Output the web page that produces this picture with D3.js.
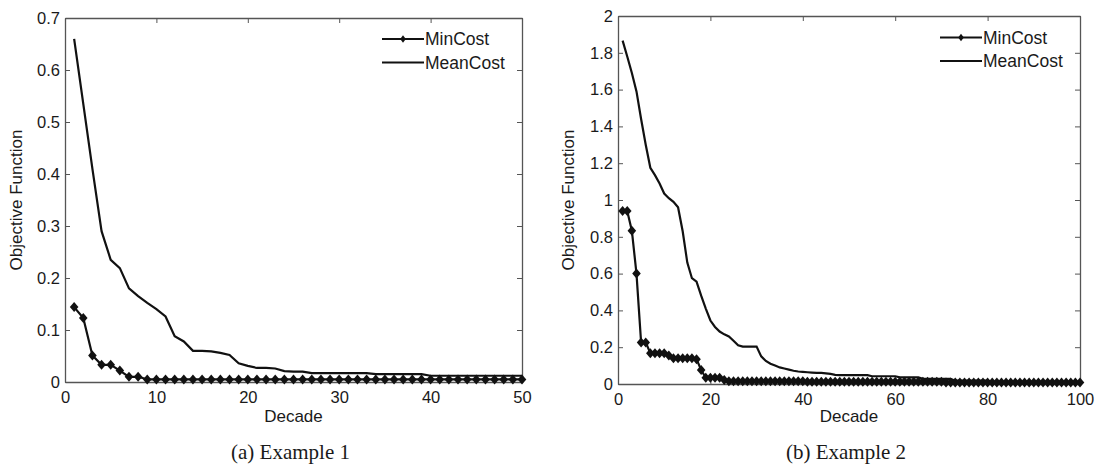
<!DOCTYPE html>
<html>
<head>
<meta charset="utf-8">
<script src="https://cdn.jsdelivr.net/npm/d3@7"></script>
<style>
  body { margin: 0; background: #fff; }
  text { font-family: "Liberation Sans", Arial, sans-serif; fill: #1a1a1a; }
  .caption { font-family: "Liberation Serif", "Times New Roman", serif; }
</style>
</head>
<body>
<div id="chart"></div>
<script>
"use strict";

// ---- data (x = decade 1..N) ----
const minCostA = [
  0.144, 0.123, 0.051, 0.033, 0.033, 0.022, 0.010, 0.010, 0.005, 0.005,
  0.005, 0.005, 0.005, 0.005, 0.005, 0.005, 0.005, 0.005, 0.005, 0.005,
  0.005, 0.005, 0.005, 0.005, 0.005, 0.005, 0.005, 0.005, 0.005, 0.005,
  0.005, 0.005, 0.005, 0.005, 0.005, 0.005, 0.005, 0.005, 0.005, 0.005,
  0.005, 0.005, 0.005, 0.005, 0.005, 0.005, 0.005, 0.005, 0.005, 0.005
];
const meanCostA = [
  0.660, 0.535, 0.410, 0.290, 0.235, 0.219, 0.180, 0.165, 0.152, 0.140,
  0.126, 0.088, 0.078, 0.060, 0.060, 0.059, 0.056, 0.052, 0.036, 0.031,
  0.027, 0.027, 0.026, 0.021, 0.020, 0.020, 0.017, 0.017, 0.017, 0.017,
  0.017, 0.017, 0.017, 0.015, 0.015, 0.015, 0.015, 0.015, 0.015, 0.012,
  0.012, 0.012, 0.012, 0.012, 0.012, 0.012, 0.012, 0.012, 0.012, 0.012
];
const minCostB = [
  0.940, 0.940, 0.833, 0.600, 0.226, 0.226, 0.167, 0.167, 0.167, 0.167,
  0.155, 0.140, 0.140, 0.140, 0.140, 0.140, 0.135, 0.076, 0.034, 0.034,
  0.034, 0.034, 0.022, 0.015, 0.015, 0.015, 0.015, 0.015, 0.015, 0.015,
  0.015, 0.015, 0.015, 0.015, 0.015, 0.015, 0.015, 0.015, 0.015, 0.015,
  0.012, 0.012, 0.012, 0.012, 0.012, 0.012, 0.012, 0.012, 0.012, 0.012,
  0.012, 0.012, 0.012, 0.012, 0.012, 0.012, 0.012, 0.012, 0.012, 0.012,
  0.012, 0.012, 0.012, 0.012, 0.012, 0.012, 0.012, 0.012, 0.012, 0.012,
  0.008, 0.008, 0.008, 0.008, 0.008, 0.008, 0.008, 0.008, 0.008, 0.008,
  0.008, 0.008, 0.008, 0.008, 0.008, 0.008, 0.008, 0.008, 0.008, 0.008,
  0.008, 0.008, 0.008, 0.008, 0.008, 0.008, 0.008, 0.008, 0.008, 0.008
];
const meanCostB = [
  1.866, 1.780, 1.690, 1.590, 1.440, 1.300, 1.175, 1.135, 1.090, 1.035,
  1.010, 0.990, 0.960, 0.830, 0.660, 0.575, 0.556, 0.480, 0.410, 0.345,
  0.310, 0.285, 0.270, 0.258, 0.235, 0.210, 0.203, 0.203, 0.203, 0.203,
  0.150, 0.125, 0.110, 0.100, 0.090, 0.084, 0.078, 0.072, 0.068, 0.066,
  0.064, 0.062, 0.060, 0.060, 0.058, 0.055, 0.050, 0.048, 0.048, 0.048,
  0.048, 0.048, 0.048, 0.048, 0.042, 0.042, 0.042, 0.042, 0.042, 0.042,
  0.036, 0.036, 0.036, 0.036, 0.036, 0.028, 0.028, 0.028, 0.028, 0.028,
  0.028, 0.028, 0.018, 0.018, 0.018, 0.018, 0.018, 0.018, 0.018, 0.018,
  0.012, 0.012, 0.012, 0.012, 0.012, 0.012, 0.012, 0.012, 0.012, 0.012,
  0.012, 0.012, 0.012, 0.012, 0.012, 0.012, 0.012, 0.012, 0.012, 0.012
];
const xTicksA = [0, 10, 20, 30, 40, 50];
const yTicksA = [0, 0.1, 0.2, 0.3, 0.4, 0.5, 0.6, 0.7];
const xTicksB = [0, 20, 40, 60, 80, 100];
const yTicksB = [0, 0.2, 0.4, 0.6, 0.8, 1, 1.2, 1.4, 1.6, 1.8, 2];
const seriesNames = ["MinCost", "MeanCost"];
const captions = ["(a) Example 1", "(b) Example 2"];

const W = 1101, H = 469;
const panels = [
  { left: 65, right: 522, top: 18, bottom: 382, xMax: 50, yMax: 0.7,
    xTicks: xTicksA, yTicks: yTicksA, min: minCostA, mean: meanCostA,
    ylabX: 22, legX: 382, legY: 39, caption: captions[0] },
  { left: 618, right: 1080, top: 16, bottom: 384, xMax: 100, yMax: 2,
    xTicks: xTicksB, yTicks: yTicksB, min: minCostB, mean: meanCostB,
    ylabX: 574, legX: 940, legY: 37.5, caption: captions[1] }
];

const svg = d3.select("#chart").append("svg")
  .attr("width", W)
  .attr("height", H);

function diamond(w, h) {
  return "M0," + (-h) + "L" + w + ",0L0," + h + "L" + (-w) + ",0Z";
}

function styleAxis(g, showText) {
  g.select(".domain").attr("stroke", "#555").attr("stroke-width", 1.3);
  g.selectAll(".tick line").attr("stroke", "#555").attr("stroke-width", 1);
  g.selectAll(".tick text")
    .attr("font-size", 16.5)
    .attr("font-family", "Liberation Sans, Arial, sans-serif")
    .attr("fill", "#1a1a1a");
  if (!showText) g.selectAll(".tick text").remove();
}

function drawPanel(p) {
  const x = d3.scaleLinear().domain([0, p.xMax]).range([p.left, p.right]);
  const y = d3.scaleLinear().domain([0, p.yMax]).range([p.bottom, p.top]);
  const fmt = d3.format("~g");

  // box axes, ticks pointing inward like matlab
  svg.append("g").attr("transform", "translate(0," + p.bottom + ")")
    .call(d3.axisBottom(x).tickValues(p.xTicks).tickSizeInner(-5).tickSizeOuter(0).tickPadding(9).tickFormat(fmt))
    .call(g => styleAxis(g, true));
  svg.append("g").attr("transform", "translate(0," + p.top + ")")
    .call(d3.axisTop(x).tickValues(p.xTicks).tickSizeInner(-5).tickSizeOuter(0))
    .call(g => styleAxis(g, false));
  svg.append("g").attr("transform", "translate(" + p.left + ",0)")
    .call(d3.axisLeft(y).tickValues(p.yTicks).tickSizeInner(-5).tickSizeOuter(0).tickPadding(5).tickFormat(fmt))
    .call(g => styleAxis(g, true));
  svg.append("g").attr("transform", "translate(" + p.right + ",0)")
    .call(d3.axisRight(y).tickValues(p.yTicks).tickSizeInner(-5).tickSizeOuter(0))
    .call(g => styleAxis(g, false));

  const line = d3.line()
    .x((d, i) => x(i + 1))
    .y(d => y(d));

  svg.append("path")
    .datum(p.mean)
    .attr("fill", "none")
    .attr("stroke", "#111")
    .attr("stroke-width", 2.2)
    .attr("d", line);

  svg.append("path")
    .datum(p.min)
    .attr("fill", "none")
    .attr("stroke", "#111")
    .attr("stroke-width", 2.2)
    .attr("d", line);

  svg.append("g").selectAll("path")
    .data(p.min)
    .enter()
    .append("path")
    .attr("transform", (d, i) => "translate(" + x(i + 1) + "," + y(d) + ")")
    .attr("d", diamond(4.3, 5))
    .attr("fill", "#111");

  // axis labels
  svg.append("text")
    .attr("x", (p.left + p.right) / 2)
    .attr("y", 422)
    .attr("text-anchor", "middle")
    .attr("font-size", 17)
    .text("Decade");

  svg.append("text")
    .attr("transform", "translate(" + p.ylabX + "," + ((p.top + p.bottom) / 2) + ") rotate(-90)")
    .attr("text-anchor", "middle")
    .attr("font-size", 17)
    .text("Objective Function");

  // legend
  seriesNames.forEach((name, i) => {
    const ly = p.legY + i * 23.5;
    svg.append("line")
      .attr("x1", p.legX).attr("x2", p.legX + 42)
      .attr("y1", ly).attr("y2", ly)
      .attr("stroke", "#111").attr("stroke-width", 2);
    if (i === 0) {
      svg.append("path")
        .attr("transform", "translate(" + (p.legX + 21) + "," + ly + ")")
        .attr("d", diamond(2.8, 3.8))
        .attr("fill", "#111");
    }
    svg.append("text")
      .attr("x", p.legX + 43)
      .attr("y", ly + 6)
      .attr("font-size", 17.5)
      .text(name);
  });

  svg.append("text")
    .attr("class", "caption")
    .attr("x", (p.left + p.right) / 2 - 3)
    .attr("y", 459)
    .attr("text-anchor", "middle")
    .attr("font-size", 21)
    .text(p.caption);
}

panels.forEach(drawPanel);
</script>
</body>
</html>
